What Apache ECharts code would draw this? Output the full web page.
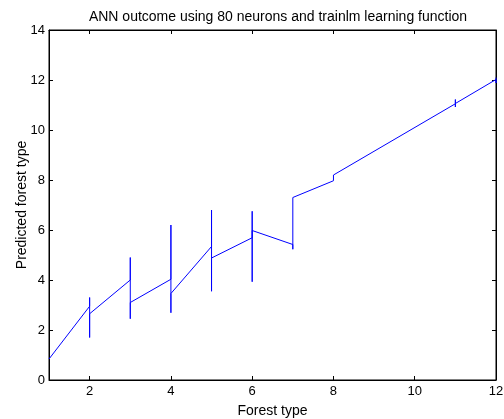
<!DOCTYPE html>
<html>
<head>
<meta charset="utf-8">
<script src="https://cdn.jsdelivr.net/npm/echarts@6/dist/echarts.min.js"></script>
<style>
  html, body { margin: 0; padding: 0; background: #fff; }
  #chart { width: 504px; height: 419px; }
</style>
</head>
<body>
<div id="chart"></div>
<script>
// actual forest type (x) and network output (y), in drawing order
const forestType = [1, 2, 2, 2, 2, 3, 3, 3, 3, 4, 4, 4, 4, 5, 5, 5, 5, 6, 6, 6, 6, 7, 7, 7, 8, 8, 8, 8, 11, 11, 11, 11, 12, 12, 12];
const predicted = [0.84, 2.95, 3.3, 1.7, 2.65, 4.0, 4.9, 2.45, 3.1, 4.03, 6.2, 2.69, 3.46, 5.34, 6.8, 3.55, 4.88, 5.69, 6.75, 3.93, 5.98, 5.42, 5.23, 7.3, 7.97, 7.93, 8.2, 8.15, 11.05, 10.92, 11.22, 11.06, 12.02, 11.88, 12.1];
const xTicks = [2, 4, 6, 8, 10, 12];

const FONT = 'Liberation Sans, Arial, sans-serif';
const chart = echarts.init(document.getElementById('chart'));

const tickStyle = { inside: true, length: 4, lineStyle: { color: '#000', width: 1 } };

chart.setOption({
  animation: false,
  title: {
    text: 'ANN outcome using 80 neurons and trainlm learning function',
    left: 273, top: 5, textAlign: 'center',
    textStyle: { fontFamily: FONT, fontSize: 14, fontWeight: 'normal', color: '#000' }
  },
  grid: {
    left: 49, right: 8, top: 30, bottom: 39,
    outerBoundsMode: 'none', containLabel: false,
    show: true, borderColor: '#000', borderWidth: 1
  },
  xAxis: [{
    type: 'value', min: 1, max: 12,
    name: 'Forest type', nameLocation: 'middle', nameGap: 24, nameMoveOverlap: false,
    nameTextStyle: { fontFamily: FONT, fontSize: 14, color: '#000' },
    axisLine: { show: true, onZero: false, lineStyle: { color: '#000' } },
    axisTick: Object.assign({ customValues: xTicks }, tickStyle),
    axisLabel: { customValues: xTicks, fontFamily: FONT, fontSize: 13, color: '#000', margin: 5 },
    splitLine: { show: false }
  }, {
    type: 'value', min: 1, max: 12, position: 'top',
    axisLine: { show: true, onZero: false, lineStyle: { color: '#000' } },
    axisTick: Object.assign({ customValues: xTicks }, tickStyle),
    axisLabel: { show: false },
    splitLine: { show: false }
  }],
  yAxis: [{
    type: 'value', min: 0, max: 14, interval: 2,
    name: 'Predicted forest type', nameLocation: 'middle', nameGap: 20, nameMoveOverlap: false,
    nameTextStyle: { fontFamily: FONT, fontSize: 14, color: '#000' },
    axisLine: { show: true, onZero: false, lineStyle: { color: '#000' } },
    axisTick: tickStyle,
    axisLabel: { fontFamily: FONT, fontSize: 13, color: '#000', margin: 4 },
    splitLine: { show: false }
  }, {
    type: 'value', min: 0, max: 14, interval: 2, position: 'right',
    axisLine: { show: true, onZero: false, lineStyle: { color: '#000' } },
    axisTick: tickStyle,
    axisLabel: { show: false },
    splitLine: { show: false }
  }],
  series: [{
    type: 'line',
    data: forestType.map((x, i) => [x, predicted[i]]),
    showSymbol: false,
    symbol: 'none',
    lineStyle: { color: '#0000ff', width: 1 },
    itemStyle: { color: '#0000ff' }
  }]
});
</script>
</body>
</html>
